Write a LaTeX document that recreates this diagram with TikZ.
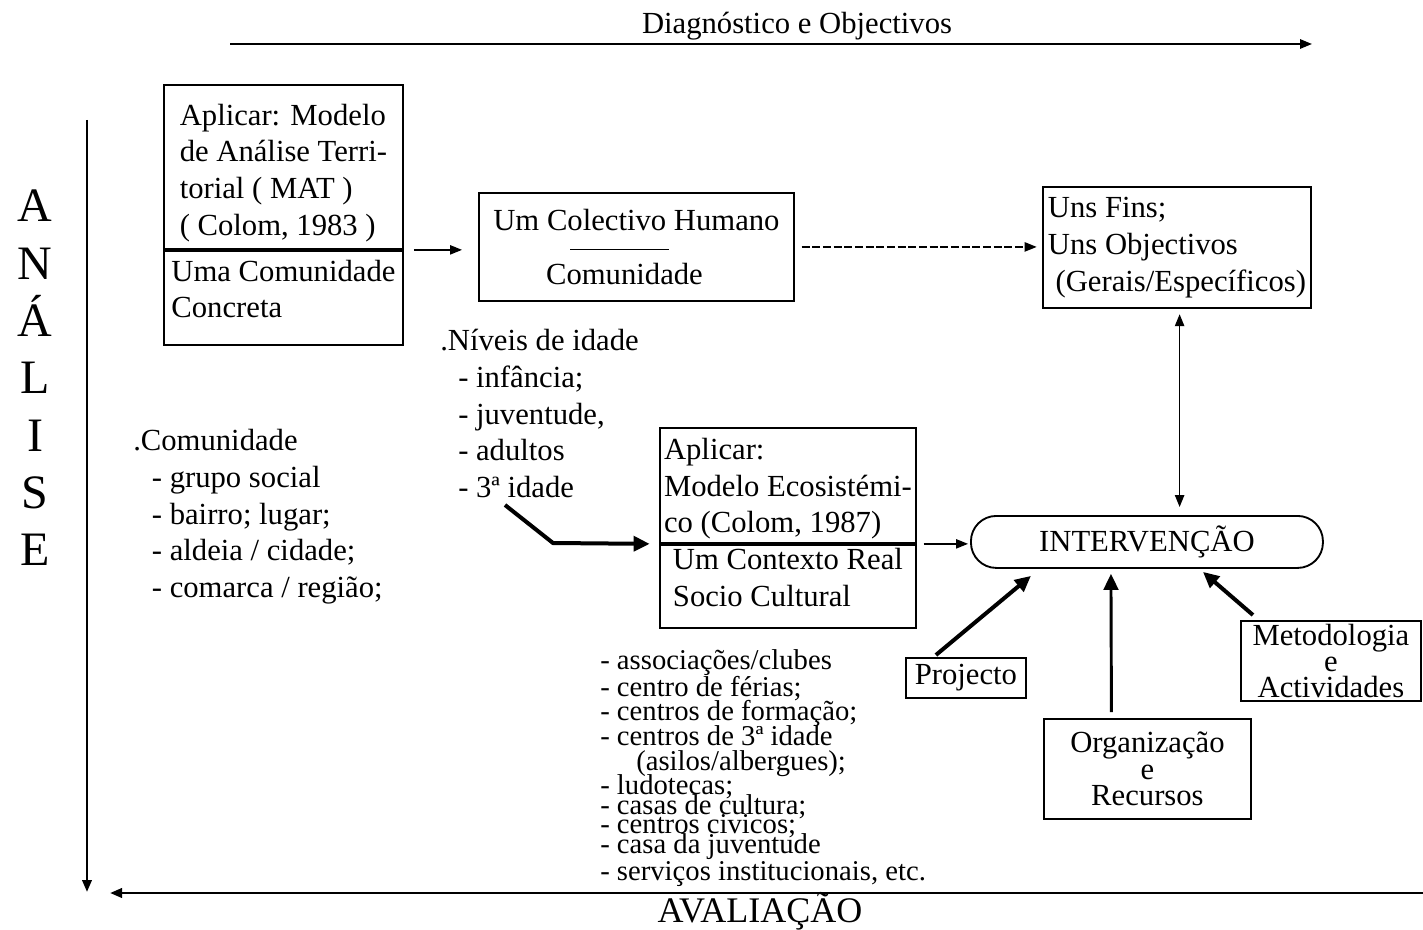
\documentclass[tikz,border=0pt]{standalone}
\usepackage{fontspec}
\setmainfont{Liberation Serif}
\usetikzlibrary{arrows.meta}

\begin{document}
\begin{tikzpicture}[x=0.75pt,y=0.75pt,yscale=-1,xscale=1,
        txt/.style={font=\fontsize{23}{27.6}\selectfont},
        tight/.style={font={\fontsize{23}{#1}\selectfont\lineskiplimit=-30pt}},
        box/.style={draw, line width=1.4pt, inner sep=2pt, align=left, txt},
        arr/.style={-{Triangle[length=9pt,width=7pt]}, line width=1pt},
        fatarr/.style={-{Triangle[length=12pt,width=11pt]}, line width=3pt}]
        \useasboundingbox (0,0) rectangle (1423,930);

        %Axes
        \coordinate (diagL) at (230,44);
        \coordinate (diagR) at (1312,44);
        \coordinate (analT) at (87,120);
        \coordinate (analB) at (87,892);
        \coordinate (avalR) at (1423,893);
        \coordinate (avalL) at (110,893);
        \draw [arr, line width=1.5pt] (diagL) -- (diagR);
        \draw [arr, line width=2pt] (analT) -- (analB);
        \draw [arr, line width=2pt] (avalR) -- (avalL);
        % Text Node
        \draw (797,26) node [txt] (diag) {Diagnóstico e Objectivos};
        % Text Node
        \draw (760,911) node [font=\fontsize{27}{30}\selectfont] (aval) {AVALIAÇÃO};
        % Text Node
        \draw (35,378) node [font=\fontsize{36}{43}\selectfont, align=center] (anal) {A\\N\\Á\\L\\I\\S\\E};

        %Shape: Rectangle (MAT)
        \draw (163,84) node [box, anchor=north west, minimum width=179.25pt, minimum height=123pt] (mat) {\rule{0pt}{25pt}Aplicar: Modelo\\de Análise Terri-\\torial ( MAT )\\( Colom, 1983 )};
        \draw (mat.south west) node [box, anchor=north west, minimum width=179.25pt, minimum height=70.5pt] (concreta) {Uma Comunidade\\Concreta\rule[-13.5pt]{0pt}{13.5pt}};
        %Shape: Rectangle (Colectivo)
        \draw (478,192) node [box, anchor=north west, align=center, minimum width=236.25pt, minimum height=81pt] (colectivo) {Um Colectivo Humano\\[13.5pt]Comunidade\hspace*{18pt}};
        \draw [line width=0.6pt] ([shift={(-66,2)}]colectivo.center) -- ([shift={(33,2)}]colectivo.center);
        %Shape: Rectangle (Fins)
        \draw (1042,186) node [box, anchor=north west, minimum width=201pt, minimum height=90.75pt] (fins) {Uns Fins;\\Uns Objectivos\\\ (Gerais/Específicos)};
        %Shape: Rectangle (Ecosistemico)
        \draw (659,427) node [box, anchor=north west, minimum width=192pt, minimum height=86.25pt] (eco) {\rule{0pt}{21pt}Aplicar:\\Modelo Ecosistémi-\\co (Colom, 1987)};
        \draw (eco.south west) node [box, anchor=north west, minimum width=192pt, minimum height=62.25pt] (contexto) {Um Contexto Real\\Socio Cultural\rule[-13.5pt]{0pt}{13.5pt}};
        %Shape: Rounded Rect (Intervencao)
        \draw (970,515) node [box, anchor=north west, align=center, rounded corners=19pt, minimum width=264pt, minimum height=39pt] (interv) {INTERVENÇÃO};
        %Shape: Rectangle (Projecto)
        \draw (905,657) node [box, anchor=north west, minimum width=90pt, minimum height=30pt] (proj) {Projecto};
        %Shape: Rectangle (Organizacao)
        \draw (1043,718) node [box, anchor=north west, align=center, tight=20, minimum width=155.25pt, minimum height=75pt] (org) {Organização\\e\\Recursos};
        %Shape: Rectangle (Metodologia)
        \draw (1240,620) node [box, anchor=north west, align=center, tight=19.5, minimum width=135pt, minimum height=60pt] (met) {Metodologia\\e\\Actividades};

        % Text Node
        \draw (440,329) node [txt, anchor=north west, align=left, inner sep=0pt] (idades) {.Níveis de idade\\\hspace*{13.5pt}- infância;\\\hspace*{13.5pt}- juventude,\\\hspace*{13.5pt}- adultos\\\hspace*{13.5pt}- 3ª idade};
        % Text Node
        \draw (133,429) node [txt, anchor=north west, align=left, inner sep=0pt] (comunidade) {.Comunidade\\\hspace*{14pt}- grupo social\\\hspace*{14pt}- bairro; lugar;\\\hspace*{14pt}- aldeia / cidade;\\\hspace*{14pt}- comarca / região;};
        % Text Node
        \draw (600,649) node [anchor=north west, align=left, inner sep=0pt, font={\fontsize{21.5}{18.5}\selectfont\lineskiplimit=-30pt}] (espacos) {- associações/clubes\\[1.7pt]- centro de férias;\\- centros de formação;\\- centros de 3ª idade\\\hspace*{27pt}(asilos/albergues);\\- ludotecas;\\[-3.5pt]- casas de cultura;\\[-4.3pt]- centros civicos;\\[-3.5pt]- casa da juventude\\[1.7pt]- serviços institucionais, etc.};

        %Connectors
        \coordinate (ageEnd) at (505,505);
        \draw [arr, shorten <=7.5pt, shorten >=12pt] (mat.south east) -- (mat.south east -| colectivo.west);
        \draw [arr, dash pattern=on 6pt off 2pt, shorten <=5pt, shorten >=4pt] (colectivo.east) -- (colectivo.east -| fins.west);
        \draw [{Triangle[length=9pt,width=7pt]}-{Triangle[length=9pt,width=7pt]}, line width=1.2pt, shorten <=4pt, shorten >=6pt] ([xshift=2pt]fins.south) -- ([xshift=2pt]fins.south |- interv.north);
        \draw [fatarr] (ageEnd) -- ++(48,38) -- ([xshift=-7pt]eco.south west);
        \draw [arr, shorten <=5pt, shorten >=1.5pt] (eco.south east) -- (eco.south east -| interv.west);
        \draw [fatarr] ([shift={(-30,-2)}]proj.north) -- ([shift={(-116,7)}]interv.south);
        \draw [fatarr, line width=2.2pt] ([shift={(-36,-6)}]org.north) -- ([shift={(-36,5)}]interv.south);
        \draw [fatarr] ([shift={(-78,-5)}]met.north) -- ([shift={(56,3)}]interv.south);
\end{tikzpicture}
\end{document}
